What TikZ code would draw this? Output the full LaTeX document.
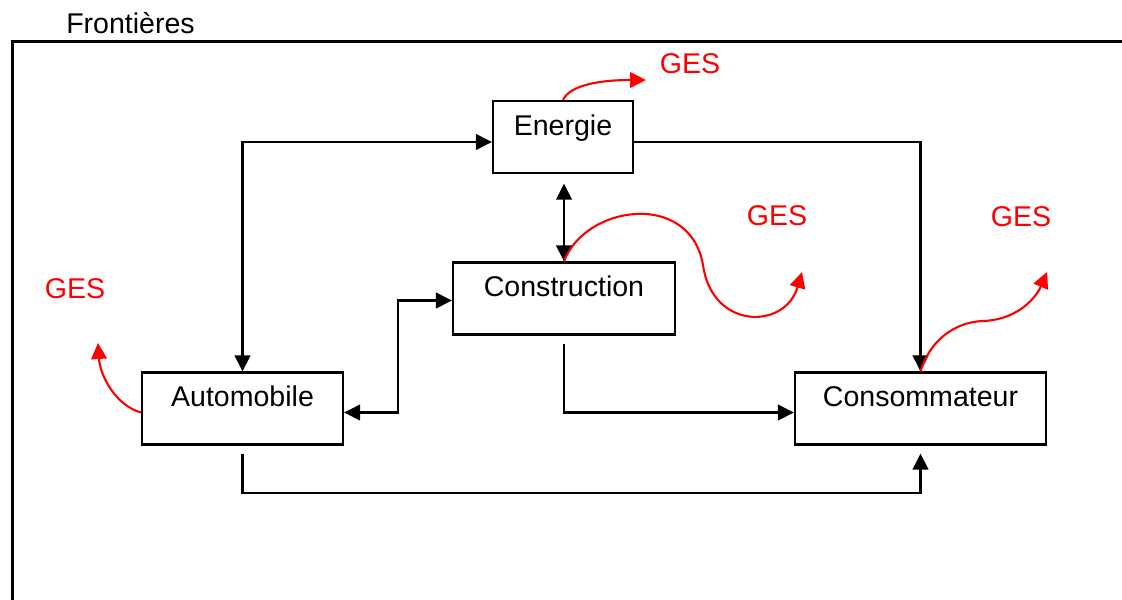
\documentclass[tikz,border=0pt]{standalone}
\usepackage{fontspec}
\setmainfont{Liberation Sans}
\usetikzlibrary{arrows.meta,calc}

\begin{document}
\begin{tikzpicture}[
  x=0.025cm,y=-0.025cm,
  font=\fontsize{20.3}{24}\selectfont,
  box/.style={draw,line width=1.5pt,inner sep=0pt,minimum height=1.8cm,text height=0.85cm,text depth=0.95cm},
  arrow/.style={-{Triangle[length=4mm,width=3.9mm]},line width=1.5pt},
  dblarrow/.style={{Triangle[length=4mm,width=3.9mm]}-{Triangle[length=4mm,width=3.9mm]},line width=1.5pt},
  ges/.style={-{Triangle[length=4mm,width=3.9mm]},line width=1.5pt,draw=red},
  geslabel/.style={text=red,anchor=base,inner sep=0pt},
  frame/.style={line width=2.3pt}
]
\useasboundingbox (0,0) rectangle (1122,599);
% frontieres du systeme
\draw[frame] (12.5,602) |- (1125,41.5);
\node[anchor=base,inner sep=0pt] (front) at (130.5,33) {Frontières};
% secteurs
\node[box,minimum width=3.5cm] (ener) at (563,137) {Energie};
\node[box,minimum width=5.55cm] (constr) at (564,298.5) {Construction};
\node[box,minimum width=5.025cm] (auto) at (242.5,408.5) {Automobile};
\node[box,minimum width=6.275cm] (conso) at (920.5,408.5) {Consommateur};
% flux
\draw[dblarrow] ($(ener.west)+(0,5)$) -| (auto.north);
\draw[arrow] ($(ener.east)+(0,5)$) -| (conso.north);
\draw[dblarrow,shorten <=2.4mm] (ener.south -| constr.north) -- (constr.north);
\draw[dblarrow] ($(constr.west)+(0,2)$) -- ++(-54,0) |- ($(auto.east)+(0,4)$);
\draw[arrow,shorten <=2mm] (constr.south) |- ($(conso.west)+(0,4)$);
\draw[arrow,shorten <=2mm,shorten >=2mm] (auto.south) -- ++(0,47) -| (conso.south);
% emissions
\coordinate (t1) at (646,80);
\coordinate (t2) at (802,272);
\coordinate (t3) at (1047,272);
\coordinate (t4) at (98,343);
\draw[ges] (ener.north) .. controls (570,85) and (600,80) .. (t1);
\draw[ges] (constr.north) .. controls (585,205) and (690,190) .. (703,265)
  .. controls (712,330) and (785,330) .. (t2);
\draw[ges] (conso.north) .. controls (930,340) and (955,322) .. (983,321)
  .. controls (1015,320) and (1035,300) .. (t3);
\draw[ges] ($(auto.west)+(0,4)$) .. controls (115,405) and (100,375) .. (t4);
\node[geslabel] (g1) at (690,73) {GES};
\node[geslabel] (g2) at (777,225) {GES};
\node[geslabel] (g3) at (1021,226) {GES};
\node[geslabel] (g4) at (75,298) {GES};
\end{tikzpicture}
\end{document}
